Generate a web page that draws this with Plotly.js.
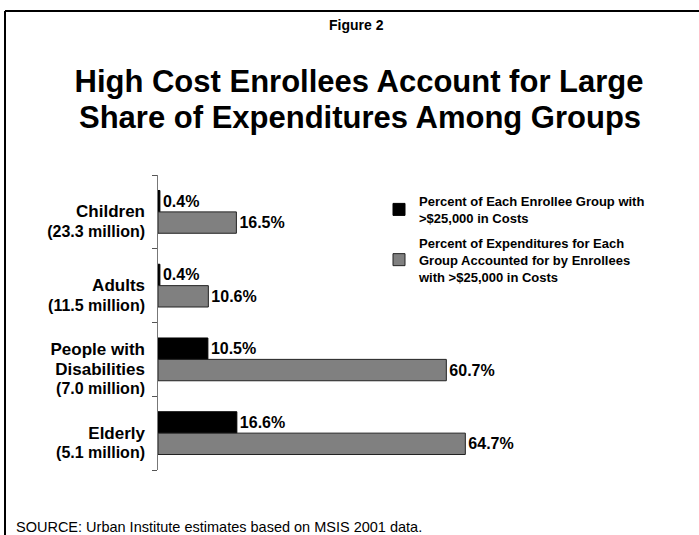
<!DOCTYPE html>
<html>
<head>
<meta charset="utf-8">
<script src="https://cdn.plot.ly/plotly-3.0.1.min.js"></script>
<style>html,body{margin:0;padding:0;background:#fff;}</style>
</head>
<body>
<div id="chart" style="width:699px;height:535px;"></div>
<script>
const categories = ["Children", "Adults", "People with Disabilities", "Elderly"];
const categoryLines = ["Children", "Adults", "People with<br>Disabilities", "Elderly"];
const enrolleesMillions = ["23.3", "11.5", "7.0", "5.1"];
const pctEnrollees = [0.4, 0.4, 10.5, 16.6];
const pctExpenditures = [16.5, 10.6, 60.7, 64.7];
const seriesNames = [
  "Percent of Each Enrollee Group with<br>>$25,000 in Costs",
  "Percent of Expenditures for Each<br>Group Accounted for by Enrollees<br>with >$25,000 in Costs"
];
const titleLines = ["High Cost Enrollees Account for Large", "Share of Expenditures Among Groups"];
const figureLabel = "Figure 2";
const sourceNote = "SOURCE: Urban Institute estimates based on MSIS 2001 data.";

const FONT = "Arial, 'Liberation Sans', sans-serif";

const tickText = categories.map((c, i) =>
  '<span style="font-size:17px">' + categoryLines[i].split('<br>').join('</span><br><span style="font-size:17px">') +
  '</span><br><span style="font-size:16px">(' + enrolleesMillions[i] + ' million)</span>');

const common = {
  type: 'bar', orientation: 'h', y: categories,
  texttemplate: '%{x:.1f}%', textposition: 'outside', cliponaxis: false,
  textfont: {family: FONT, size: 16, color: '#000', weight: 'bold'},
  hoverinfo: 'skip'
};
const traces = [
  Object.assign({}, common, {x: pctEnrollees, name: seriesNames[0], legendgroup: 'g1',
    marker: {color: '#000000', line: {color: '#000', width: 1}}}),
  Object.assign({}, common, {x: pctExpenditures, name: seriesNames[1], legendgroup: 'g2',
    marker: {color: '#808080', line: {color: '#222', width: 1}}})
];

const W = 699, H = 535, ML = 158, MR = 66, MT = 175, MB = 65;
const plotW = W - ML - MR, plotH = H - MT - MB;
function px2x(px) { return (px - ML) / plotW; }
function py2y(py) { return (H - MB - py) / plotH; }

const layout = {
  width: W, height: H,
  margin: {l: ML, r: MR, t: MT, b: MB},
  paper_bgcolor: '#fff', plot_bgcolor: '#fff',
  font: {family: FONT, color: '#000'},
  barmode: 'group', bargap: 0.42, bargroupgap: 0,
  showlegend: true,
  legend: {x: px2x(379), xanchor: 'left', y: py2y(186), yanchor: 'top',
    font: {family: FONT, size: 13, weight: 'bold'}, tracegroupgap: 5,
    bgcolor: 'rgba(0,0,0,0)'},
  xaxis: {range: [0, 100], visible: false, fixedrange: true},
  yaxis: {
    type: 'category', categoryorder: 'array', categoryarray: categories,
    autorange: 'reversed',
    tickvals: categories, ticktext: tickText,
    tickson: 'boundaries', ticks: 'outside', ticklen: 5, tickcolor: '#555',
    showline: true, linecolor: '#777', linewidth: 1,
    showgrid: false, zeroline: false,
    tickfont: {family: FONT, size: 15, weight: 'bold', color: '#000'},
    ticklabelstandoff: 9, ticklabelshift: -10
  },
  title: {text: titleLines[0], x: 359 / W, xanchor: 'center',
    y: 1 - 81 / H, yanchor: 'middle',
    font: {family: FONT, size: 31, weight: 'bold', color: '#000'}},
  annotations: [
    {text: titleLines[1], xref: 'paper', yref: 'paper', x: px2x(360), y: py2y(117),
     xanchor: 'center', yanchor: 'middle', showarrow: false,
     font: {family: FONT, size: 31, weight: 'bold', color: '#000'}},
    {text: figureLabel, xref: 'paper', yref: 'paper', x: px2x(356), y: py2y(25),
     xanchor: 'center', yanchor: 'middle', showarrow: false,
     font: {family: FONT, size: 14, weight: 'bold'}},
    {text: sourceNote, xref: 'paper', yref: 'paper', x: px2x(14), y: py2y(527),
     xanchor: 'left', yanchor: 'middle', showarrow: false,
     font: {family: FONT, size: 14.5, color: '#000'}}
  ],
  shapes: [
    {type: 'line', xref: 'paper', yref: 'paper', x0: px2x(5), x1: px2x(700), y0: py2y(11), y1: py2y(11),
     line: {color: '#000', width: 2}},
    {type: 'line', xref: 'paper', yref: 'paper', x0: px2x(5), x1: px2x(5), y0: py2y(11), y1: py2y(540),
     line: {color: '#000', width: 2}}
  ]
};

Plotly.newPlot('chart', traces, layout, {displayModeBar: false, staticPlot: true});
</script>
</body>
</html>
